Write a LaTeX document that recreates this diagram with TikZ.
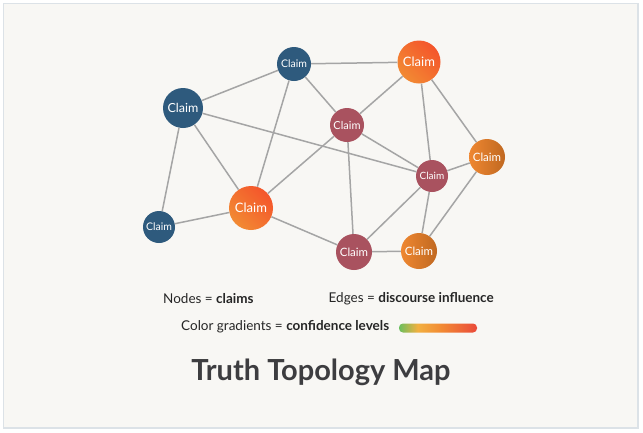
\documentclass[tikz,border=0pt]{standalone}
\usepackage{fontspec}
\setmainfont{Lato}
\usepackage{xcolor}
\usepackage{tikz}

\definecolor{paper}{HTML}{F8F7F4}
\definecolor{framecol}{HTML}{DCE2E7}
\definecolor{claimblue}{HTML}{2E5A7D}
\definecolor{claimred}{HTML}{A9525F}
\definecolor{claimorange}{HTML}{E27B27}
\definecolor{warmorange}{HTML}{F28A33}
\definecolor{warmred}{HTML}{F4552B}
\definecolor{linkgray}{HTML}{A5A5A5}
\definecolor{titlegray}{HTML}{3D3D40}
\definecolor{lowgreen}{HTML}{6BBF5E}
\definecolor{midamber}{HTML}{F2B040}
\definecolor{highred}{HTML}{EA4A3A}

\pgfdeclarehorizontalshading{confidence}{100bp}{color(0bp)=(lowgreen); color(25bp)=(lowgreen);
  color(37bp)=(midamber); color(52bp)=(warmorange); color(75bp)=(highred); color(100bp)=(highred)}

\tikzset{
  claim/.style={circle, inner sep=0pt, text=white},
  blueclaim/.style={claim, fill=claimblue},
  redclaim/.style={claim, fill=claimred},
  orangeclaim/.style={claim, left color=warmorange!80!claimorange, right color=claimorange!85!black},
  hotclaim/.style={claim, top color=warmred, bottom color=warmorange, shading angle=-45},
  link/.style={draw=linkgray, line width=1.5pt},
  legend/.style={font=\fontsize{13.5}{16}\selectfont, text=black!85, inner sep=0pt}
}

\begin{document}
\begin{tikzpicture}[x=1pt, y=-1pt]
\useasboundingbox (0,0) rectangle (643,432);
\fill[white] (0,0) rectangle (643,432);
\filldraw[fill=paper, draw=framecol, line width=1.5pt] (3.5,3.5) rectangle (638,428);
%--- Claim nodes ---
\node[blueclaim, minimum size=34pt, font=\fontsize{10.5}{12}\selectfont] (cA) at (294,64) {Claim};
\node[blueclaim, minimum size=40pt, font=\fontsize{12.5}{14}\selectfont] (cB) at (183,108) {Claim};
\node[blueclaim, minimum size=32pt, font=\fontsize{10.5}{12}\selectfont] (cC) at (159,227) {Claim};
\node[hotclaim, minimum size=44pt, font=\fontsize{13}{15}\selectfont] (cD) at (251,208) {Claim};
\node[hotclaim, minimum size=43pt, font=\fontsize{13}{15}\selectfont] (cE) at (419,62) {Claim};
\node[redclaim, minimum size=34pt, font=\fontsize{11}{13}\selectfont] (cF) at (347,125) {Claim};
\node[redclaim, minimum size=32pt, font=\fontsize{10}{12}\selectfont] (cG) at (432,176) {Claim};
\node[orangeclaim, minimum size=36pt, font=\fontsize{11.5}{13}\selectfont] (cH) at (487,157) {Claim};
\node[redclaim, minimum size=36pt, font=\fontsize{11.5}{13}\selectfont] (cI) at (354,252) {Claim};
\node[orangeclaim, minimum size=36pt, font=\fontsize{11.5}{13}\selectfont] (cJ) at (419,251) {Claim};
%--- Influence links ---
\draw[link] (cA) -- (cB); \draw[link] (cA) -- (cE); \draw[link] (cA) -- (cF);
\draw[link] (cA) -- (cD); \draw[link] (cB) -- (cC); \draw[link] (cB) -- (cD);
\draw[link] (cB) -- (cG); \draw[link] (cC) -- (cD); \draw[link] (cD) -- (cF);
\draw[link] (cD) -- (cI); \draw[link] (cE) -- (cF); \draw[link] (cE) -- (cG);
\draw[link] (cE) -- (cH); \draw[link] (cF) -- (cG); \draw[link] (cF) -- (cI);
\draw[link] (cG) -- (cH); \draw[link] (cG) -- (cI); \draw[link] (cG) -- (cJ);
\draw[link] (cH) -- (cJ); \draw[link] (cI) -- (cJ);
%--- Legend ---
\node[legend, anchor=west] (keyNodes) at (163,299) {Nodes = \textbf{claims}};
\node[legend, anchor=east] (keyEdges) at (494,299) {Edges = \textbf{discourse influence}};
\node[legend, anchor=west] (keyColor) at (181,327) {Color gradients = \textbf{confidence levels}};
\shade[shading=confidence, rounded corners=4pt] (399,323.5) rectangle (477,332.5);
%--- Title ---
\node[font=\bfseries\fontsize{29}{34}\selectfont, text=titlegray] (title) at (321,372) {Truth Topology Map};
\end{tikzpicture}
\end{document}
